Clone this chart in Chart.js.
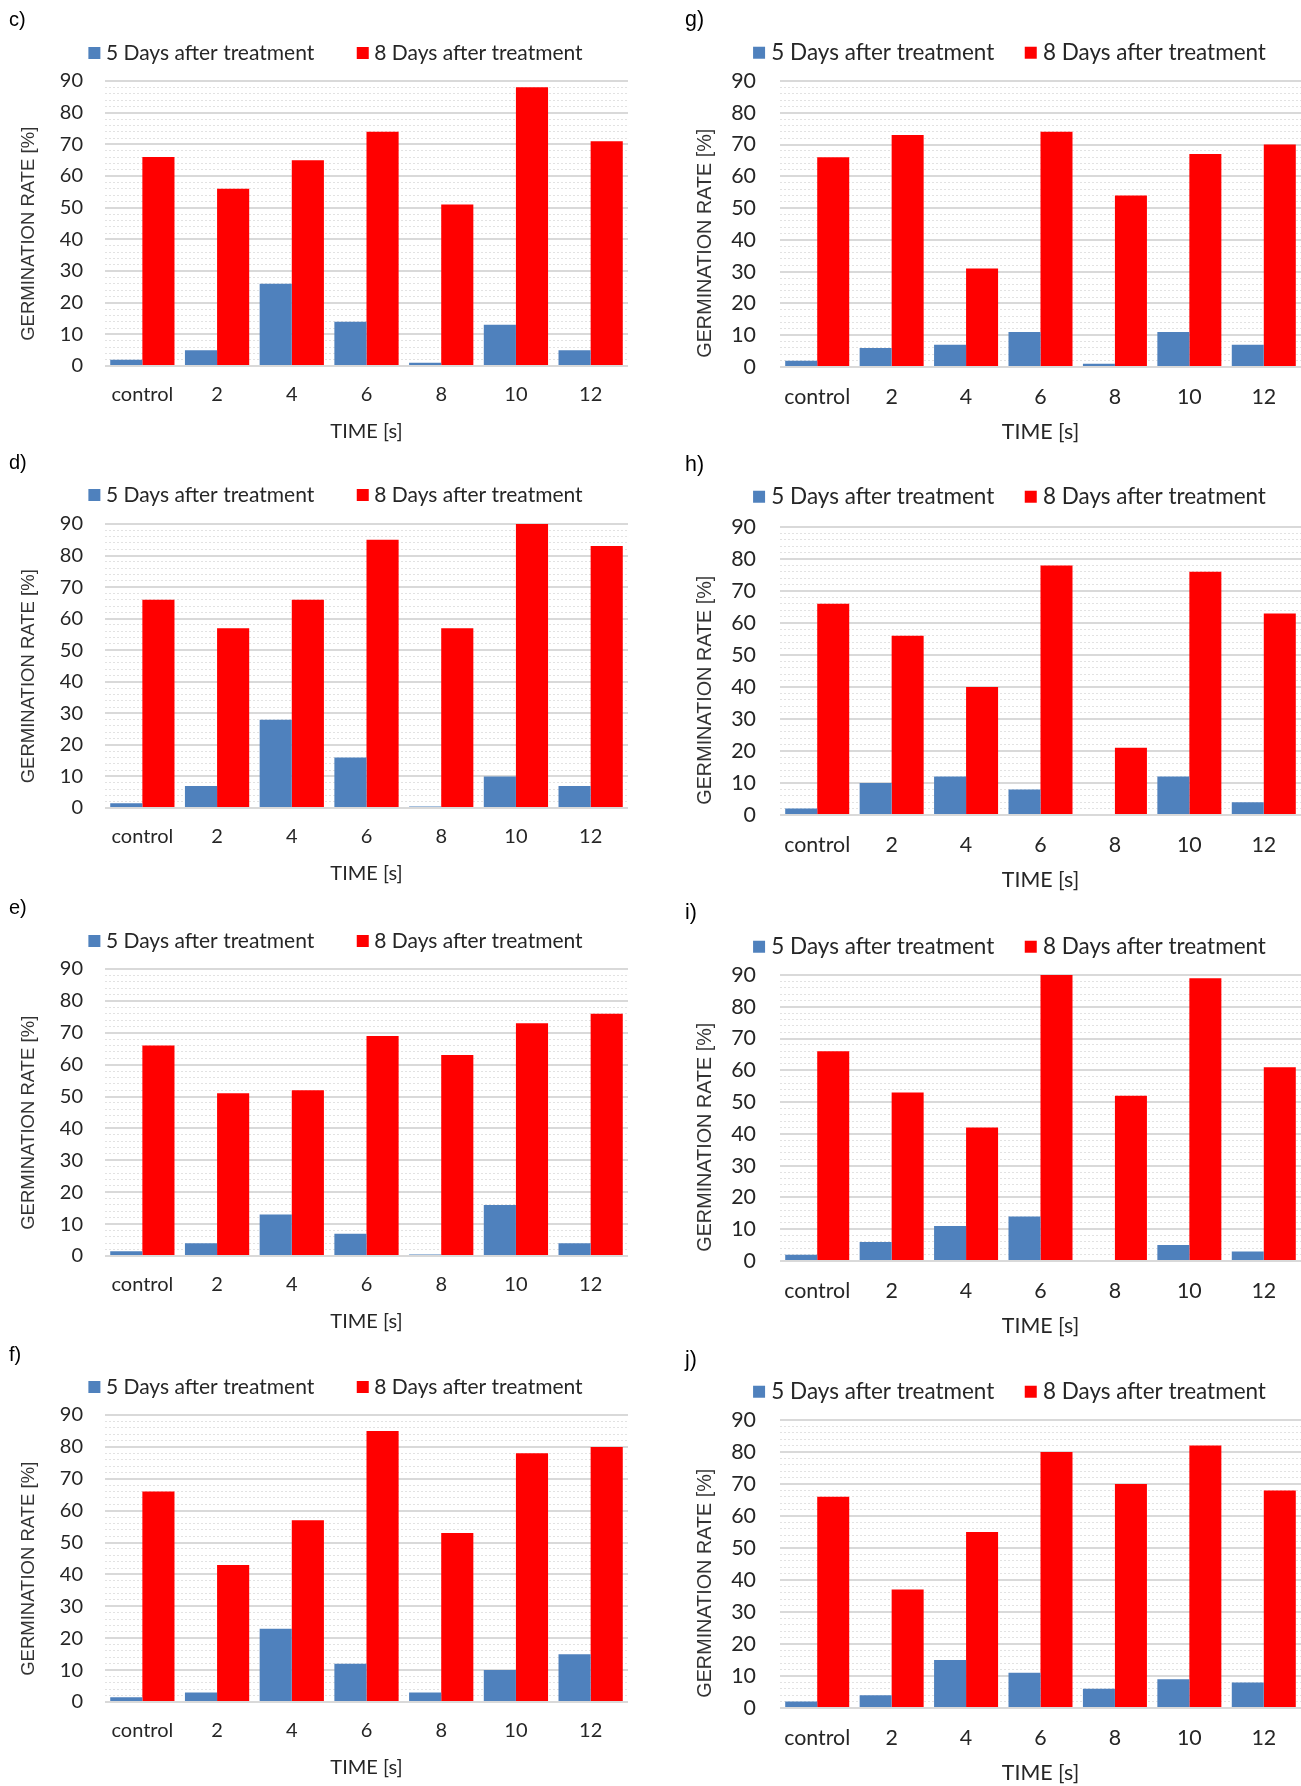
<!DOCTYPE html>
<html>
<head>
<meta charset="utf-8">
<script src="https://cdn.jsdelivr.net/npm/chart.js@4.4.1/dist/chart.umd.min.js"></script>
<style>
  html, body { margin: 0; padding: 0; overflow: hidden; background: #fff; }
  #sheet { position: relative; width: 1301px; height: 1786px; overflow: hidden; background: #fff; }
  #sheet canvas { position: absolute; }
  .tag { position: absolute; font-family: "Liberation Sans", Arial, sans-serif; line-height: 20px; color: #000; }
</style>
</head>
<body>
<div id="sheet"></div>
<script>
// Categories and series
const timeLabels = ['control', '2', '4', '6', '8', '10', '12'];
const seriesNames = ['5 Days after treatment', '8 Days after treatment'];
const yTickValues = [0, 10, 20, 30, 40, 50, 60, 70, 80, 90];

// Germination rate [%] per panel: 5 days / 8 days after treatment
const c5 = [2, 5, 26, 14, 1, 13, 5];
const c8 = [66, 56, 65, 74, 51, 88, 71];
const d5 = [1.5, 7, 28, 16, 0.5, 10, 7];
const d8 = [66, 57, 66, 85, 57, 90, 83];
const e5 = [1.5, 4, 13, 7, 0.5, 16, 4];
const e8 = [66, 51, 52, 69, 63, 73, 76];
const f5 = [1.5, 3, 23, 12, 3, 10, 15];
const f8 = [66, 43, 57, 85, 53, 78, 80];
const g5 = [2, 6, 7, 11, 1, 11, 7];
const g8 = [66, 73, 31, 74, 54, 67, 70];
const h5 = [2, 10, 12, 8, 0, 12, 4];
const h8 = [66, 56, 40, 78, 21, 76, 63];
const i5 = [2, 6, 11, 14, 0, 5, 3];
const i8 = [66, 53, 42, 90, 52, 89, 61];
const j5 = [2, 4, 15, 11, 6, 9, 8];
const j8 = [66, 37, 55, 80, 70, 82, 68];

// Page layout (pixels); the right column is drawn at a slightly larger text scale
const columns = [
  { left: 0,   width: 676, yAxisW: 105, rightW: 48, tickPad: 22, titleX: 29, legendPad: 47.5,
    tagX: 9,   scale: 1.0,  titleShift: 4 },
  { left: 690, width: 644, yAxisW: 90,  rightW: 33, tickPad: 24, titleX: 16, legendPad: 35.5,
    tagX: 685, scale: 1.07, titleShift: 7 }
];
const panels = [
  { tag: 'c)', a: c5, b: c8, col: 0, tagY: 20,   legendY: 53,   top: 81,   bottom: 366 },
  { tag: 'd)', a: d5, b: d8, col: 0, tagY: 463,  legendY: 495,  top: 524,  bottom: 808 },
  { tag: 'e)', a: e5, b: e8, col: 0, tagY: 908,  legendY: 941,  top: 969,  bottom: 1256 },
  { tag: 'f)', a: f5, b: f8, col: 0, tagY: 1355, legendY: 1387, top: 1415, bottom: 1702 },
  { tag: 'g)', a: g5, b: g8, col: 1, tagY: 20,   legendY: 53,   top: 81,   bottom: 367 },
  { tag: 'h)', a: h5, b: h8, col: 1, tagY: 465,  legendY: 497,  top: 527,  bottom: 815 },
  { tag: 'i)', a: i5, b: i8, col: 1, tagY: 913,  legendY: 947,  top: 975,  bottom: 1261 },
  { tag: 'j)', a: j5, b: j8, col: 1, tagY: 1360, legendY: 1392, top: 1420, bottom: 1708 }
];

const BLUE = '#4F81BD';
const RED = '#FF0000';
const TEXT = '#262626';
const X_AXIS_H = 78;

// Keeps the legend band at a fixed height so the plot starts at a set distance below it
const legendBand = {
  id: 'legendBand',
  beforeLayout(chart, args, opts) {
    const lg = chart.legend;
    if (!lg || lg.$bandFit) return;
    const fit = lg.fit;
    lg.fit = function () { fit.call(this); this.height = opts.height; };
    lg.$bandFit = true;
  }
};

const sheet = document.getElementById('sheet');

panels.forEach(p => {
  const col = columns[p.col];
  const legendFont = 21 * col.scale;
  const tickFont = 20 * col.scale;
  const xTitleFont = 20 * col.scale;
  const yTitleFont = 18.5 * col.scale;

  const canvasTop = Math.round(p.legendY - col.legendPad - legendFont / 2);
  const legendH = p.top - canvasTop;
  const height = legendH + (p.bottom - p.top) + X_AXIS_H;

  const cv = document.createElement('canvas');
  cv.width = col.width;
  cv.height = height;
  cv.style.left = col.left + 'px';
  cv.style.top = canvasTop + 'px';
  cv.style.width = col.width + 'px';
  cv.style.height = height + 'px';
  sheet.appendChild(cv);

  const tag = document.createElement('div');
  tag.className = 'tag';
  tag.textContent = p.tag;
  tag.style.fontSize = (20 * col.scale) + 'px';
  tag.style.left = col.tagX + 'px';
  tag.style.top = (p.tagY - 11) + 'px';
  sheet.appendChild(tag);

  new Chart(cv, {
    type: 'bar',
    data: {
      labels: timeLabels,
      datasets: [
        { label: seriesNames[0], data: p.a, backgroundColor: BLUE, borderWidth: 0,
          barPercentage: 1, categoryPercentage: 0.86 },
        { label: seriesNames[1], data: p.b, backgroundColor: RED, borderWidth: 0,
          barPercentage: 1, categoryPercentage: 0.86 }
      ]
    },
    options: {
      responsive: false,
      animation: false,
      devicePixelRatio: 1,
      layout: { padding: 0 },
      plugins: {
        legend: {
          position: 'top',
          align: 'center',
          labels: {
            usePointStyle: true,
            pointStyle: 'rect',
            boxWidth: 2,
            boxHeight: 12,
            padding: col.legendPad,
            color: TEXT,
            font: { family: 'Lato', size: legendFont }
          }
        },
        tooltip: { enabled: false },
        legendBand: { height: legendH }
      },
      scales: {
        x: {
          grid: { display: false, drawTicks: false },
          border: { display: false },
          ticks: { color: TEXT, font: { family: 'Lato', size: tickFont }, padding: 17, maxRotation: 0 },
          title: { display: true, text: 'TIME [s]', color: TEXT,
                   font: { family: 'Lato', size: xTitleFont }, padding: 0 },
          afterFit: s => { s.height = X_AXIS_H; }
        },
        y: {
          min: yTickValues[0],
          max: yTickValues[yTickValues.length - 1],
          afterBuildTicks: s => { s.ticks = yTickValues.map(v => ({ value: v })); },
          ticks: { color: TEXT, font: { family: 'Lato', size: tickFont }, padding: col.tickPad },
          grid: { color: '#d9d9d9', lineWidth: 2, drawTicks: false },
          border: { display: false },
          title: {
            display: true,
            text: 'GERMINATION RATE [%]' + '\u00a0'.repeat(col.titleShift),
            color: '#333333',
            font: { family: '"Liberation Sans", Arial, sans-serif', size: yTitleFont },
            padding: { top: col.titleX - yTitleFont * 0.6, bottom: 0 }
          },
          afterFit: s => { s.width = col.yAxisW; }
        },
        yMinor: {
          position: 'right',
          min: yTickValues[0],
          max: yTickValues[yTickValues.length - 1],
          ticks: { display: false, stepSize: 2, autoSkip: false },
          grid: {
            drawTicks: false,
            lineWidth: 1,
            color: c => (c.tick && c.tick.value % 10 === 0) ? 'rgba(0,0,0,0)' : '#e2e2e2'
          },
          border: { display: false, dash: [2, 2] },
          afterFit: s => { s.width = col.rightW; }
        }
      }
    },
    plugins: [legendBand]
  });
});
</script>
</body>
</html>
